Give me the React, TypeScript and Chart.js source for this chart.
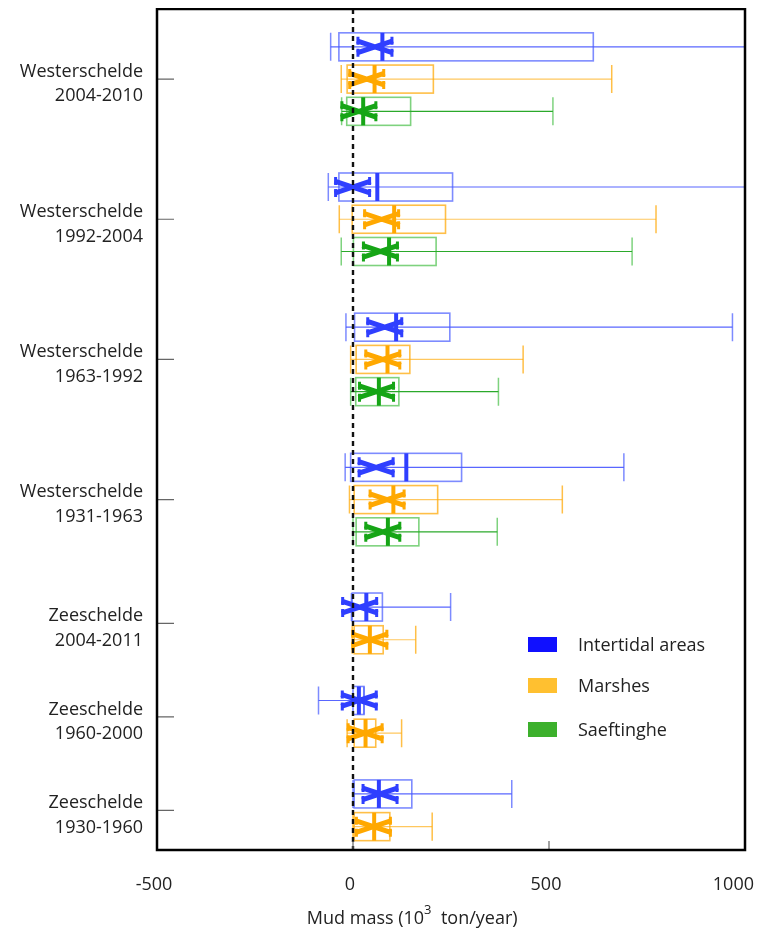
import React, { useEffect, useRef } from "react";
import { Chart, registerables } from "chart.js";
Chart.register(...registerables);

const groupLabels: string[][] = [
  ["Westerschelde", "2004-2010"],
  ["Westerschelde", "1992-2004"],
  ["Westerschelde", "1963-1992"],
  ["Westerschelde", "1931-1963"],
  ["Zeeschelde", "2004-2011"],
  ["Zeeschelde", "1960-2000"],
  ["Zeeschelde", "1930-1960"],
];
// position of each group on the (reversed) vertical axis
const groupPositions = [1.5, 4.5, 7.5, 10.5, 13.15, 15.15, 17.15];
const seriesNames = ["Intertidal areas", "Marshes", "Saeftinghe"];
const xTicks = [-500, 0, 500, 1000];

// [min, q1, median, q3, max, mean]
const intertidalStats: (number[] | null)[] = [
  [-57, -36, 75, 613, 1100, 56],
  [-63, -36, 62, 254, 1100, -1],
  [-18, 4, 110, 247, 968, 81],
  [-20, -6, 136, 277, 691, 59],
  [-4, -2, 34, 75, 249, 17],
  [-88, 0, 15, 28, 28, 16],
  [0, 3, 66, 150, 405, 69],
];
const marshStats: (number[] | null)[] = [
  [-30, -15, 55, 205, 660, 35],
  [-35, -2, 105, 236, 773, 73],
  [-6, 8, 88, 145, 434, 76],
  [-9, 3, 103, 216, 534, 87],
  [-2, 3, 43, 77, 160, 43],
  [-15, 3, 32, 58, 124, 31],
  [0, 3, 54, 94, 202, 52],
];
const saeftingheStats: (number[] | null)[] = [
  [-29, -16, 26, 147, 510, 15],
  [-30, 1, 92, 212, 712, 70],
  [-6, 7, 66, 117, 371, 60],
  [0, 8, 89, 168, 368, 76],
  null,
  null,
  null,
];

const allStats = [intertidalStats, marshStats, saeftingheStats];

const styles = [
  { main: "#2f3fff", box: "rgba(70,90,255,0.7)", whisk: "rgba(60,75,255,0.85)", legend: "#1010ff" },
  { main: "#ffa800", box: "rgba(255,170,10,0.75)", whisk: "rgba(255,180,40,0.75)", legend: "#ffc030" },
  { main: "#16a516", box: "rgba(40,180,40,0.6)", whisk: "rgba(20,160,20,0.9)", legend: "#3cb02c" },
];

const FONT = "'Open Sans', sans-serif";

function rowPosition(g: number, k: number, n: number) {
  const step = n === 3 ? 0.69 : 0.7;
  return groupPositions[g] + (k - (n - 1) / 2) * step;
}

const boxPlugin = {
  id: "boxplots",
  beforeDraw(chart: any) {
    // keep the last x tick label inside the visible page
    const xs = chart.scales.x;
    if (!xs || !xs.getLabelItems) return;
    const items = xs.getLabelItems(chart.chartArea);
    const last = items && items[items.length - 1];
    if (last && last.options && last.options.translation) {
      last.options.textAlign = "right";
      last.options.translation[0] = xs.getPixelForValue(xTicks[xTicks.length - 1]) + 9;
    }
  },
  afterDatasetsDraw(chart: any) {
    const { ctx, chartArea: a, scales } = chart;
    const x = scales.x;
    const y = scales.y;
    ctx.save();
    ctx.beginPath();
    ctx.rect(a.left, a.top, a.right - a.left, a.bottom - a.top);
    ctx.clip();
    groupPositions.forEach((_gp, g) => {
      const present = allStats.map((s, i) => (s[g] ? i : -1)).filter((i) => i >= 0);
      const n = present.length;
      present.forEach((si, k) => {
        const st = allStats[si][g] as number[];
        const [mn, q1, med, q3, mx, mean] = st;
        const pos = rowPosition(g, k, n);
        const cy = y.getPixelForValue(pos);
        const hh = Math.abs(y.getPixelForValue(pos + 0.3) - cy);
        const c = styles[si];
        const px = (v: number) => x.getPixelForValue(v);
        // whisker line
        ctx.strokeStyle = c.whisk;
        ctx.lineWidth = 1.2;
        ctx.beginPath();
        ctx.moveTo(px(mn), cy);
        ctx.lineTo(px(mx), cy);
        ctx.stroke();
        // caps
        ctx.strokeStyle = c.box;
        ctx.lineWidth = 1.5;
        ctx.beginPath();
        ctx.moveTo(px(mn), cy - hh);
        ctx.lineTo(px(mn), cy + hh);
        ctx.moveTo(px(mx), cy - hh);
        ctx.lineTo(px(mx), cy + hh);
        ctx.stroke();
        // box
        ctx.strokeStyle = c.box;
        ctx.lineWidth = 1.6;
        ctx.strokeRect(px(q1), cy - hh, px(q3) - px(q1), 2 * hh);
        // median
        ctx.strokeStyle = c.main;
        ctx.lineWidth = 4;
        ctx.beginPath();
        ctx.moveTo(px(med), cy - hh);
        ctx.lineTo(px(med), cy + hh);
        ctx.stroke();
        // mean marker (thick X)
        const mxp = px(mean);
        const w = 18;
        const h = 6;
        ctx.lineWidth = 5;
        ctx.lineCap = "butt";
        ctx.beginPath();
        ctx.moveTo(mxp - w, cy - h);
        ctx.lineTo(mxp + w, cy + h);
        ctx.moveTo(mxp - w, cy + h);
        ctx.lineTo(mxp + w, cy - h);
        ctx.stroke();
        ctx.lineWidth = 3;
        ctx.beginPath();
        [-1, 1].forEach((sx) => {
          [-1, 1].forEach((sy) => {
            ctx.moveTo(mxp + sx * (w - 1), cy + sy * h - 4);
            ctx.lineTo(mxp + sx * (w - 1), cy + sy * h + 4);
          });
        });
        ctx.stroke();
      });
    });
    ctx.restore();

    // zero dashed line
    ctx.save();
    ctx.strokeStyle = "#111";
    ctx.lineWidth = 2.4;
    ctx.setLineDash([5, 4]);
    ctx.beginPath();
    const zx = x.getPixelForValue(0);
    ctx.moveTo(zx, a.top);
    ctx.lineTo(zx, a.bottom);
    ctx.stroke();
    ctx.restore();

    // inward tick marks
    ctx.save();
    ctx.strokeStyle = "#666";
    ctx.lineWidth = 1.2;
    ctx.beginPath();
    groupPositions.forEach((gp) => {
      const ty = y.getPixelForValue(gp);
      ctx.moveTo(a.left, ty);
      ctx.lineTo(a.left + 17, ty);
    });
    xTicks.forEach((t) => {
      const tx = x.getPixelForValue(t);
      ctx.moveTo(tx, a.bottom);
      ctx.lineTo(tx, a.bottom - 9);
    });
    ctx.stroke();
    ctx.restore();

    // frame
    ctx.save();
    ctx.strokeStyle = "#000";
    ctx.lineWidth = 2.5;
    ctx.strokeRect(a.left, a.top, a.right - a.left, a.bottom - a.top);
    ctx.restore();

    // legend
    ctx.save();
    ctx.font = `18px ${FONT}`;
    ctx.textBaseline = "middle";
    ctx.textAlign = "left";
    const legY = [629, 670, 714];
    seriesNames.forEach((name, i) => {
      ctx.fillStyle = styles[i].legend;
      ctx.fillRect(520, legY[i], 29, 15);
      ctx.fillStyle = "#222";
      ctx.fillText(name, 570, legY[i] + 9);
    });
    ctx.restore();

    // x-axis title with superscript
    ctx.save();
    ctx.fillStyle = "#222";
    ctx.textBaseline = "alphabetic";
    ctx.textAlign = "left";
    const base = 916;
    const p1 = "Mud mass (10";
    const p2 = "3";
    const p3 = "  ton/year)";
    ctx.font = `18px ${FONT}`;
    const w1 = ctx.measureText(p1).width;
    const w3 = ctx.measureText(p3).width;
    ctx.font = `13px ${FONT}`;
    const w2 = ctx.measureText(p2).width;
    const total = w1 + w2 + w3;
    const cx = a.left + (a.right - a.left) * 0.434;
    let sx = cx - total / 2;
    ctx.font = `18px ${FONT}`;
    ctx.fillText(p1, sx, base);
    sx += w1;
    ctx.font = `13px ${FONT}`;
    ctx.fillText(p2, sx, base - 10);
    sx += w2;
    ctx.font = `18px ${FONT}`;
    ctx.fillText(p3, sx, base);
    ctx.restore();
  },
};

export default function App() {
  const ref = useRef<HTMLCanvasElement | null>(null);
  useEffect(() => {
    if (!ref.current) return;
    const datasets = allStats.map((s, i) => ({
      label: seriesNames[i],
      data: s
        .map((st, g) => (st ? { x: st[5], y: rowPosition(g, i, allStats[2][g] ? 3 : 2) } : null))
        .filter((d) => d !== null),
      pointRadius: 0,
      backgroundColor: styles[i].legend,
      borderColor: styles[i].legend,
      showLine: false,
    }));
    const chart = new Chart(ref.current, {
      type: "scatter",
      data: { datasets: datasets as any },
      options: {
        animation: false,
        responsive: true,
        maintainAspectRatio: false,
        layout: { padding: { top: 1, right: 18, bottom: 0, left: 0 } },
        plugins: { legend: { display: false }, tooltip: { enabled: false } },
        scales: {
          x: {
            type: "linear",
            min: -500,
            max: 1000,
            afterBuildTicks: (s: any) => {
              s.ticks = xTicks.map((v) => ({ value: v }));
            },
            afterFit: (s: any) => {
              s.height = 83;
              s.paddingLeft = 0;
              s.paddingRight = 0;
            },
            grid: { display: false },
            border: { display: false },
            ticks: {
              padding: 16,
              labelOffset: -3,
              color: "#222",
              font: { family: FONT, size: 18 },
              callback: (v: any) => String(v),
              maxRotation: 0,
            },
          },
          y: {
            type: "linear",
            reverse: true,
            min: 0,
            max: 18,
            afterBuildTicks: (s: any) => {
              s.ticks = groupPositions.map((v) => ({ value: v }));
            },
            afterFit: (s: any) => {
              s.width = 149;
              s.paddingTop = 0;
              s.paddingBottom = 0;
            },
            grid: { display: false },
            border: { display: false },
            ticks: {
              padding: 6,
              labelOffset: 5,
              color: "#222",
              autoSkip: false,
              font: { family: FONT, size: 18, lineHeight: 1.36 },
              callback: (_v: any, i: number) => groupLabels[i],
            },
          },
        },
      },
      plugins: [boxPlugin],
    });
    return () => chart.destroy();
  }, []);
  return (
    <div style={{ width: 755, height: 925, position: "relative" }}>
      <canvas ref={ref} />
    </div>
  );
}
